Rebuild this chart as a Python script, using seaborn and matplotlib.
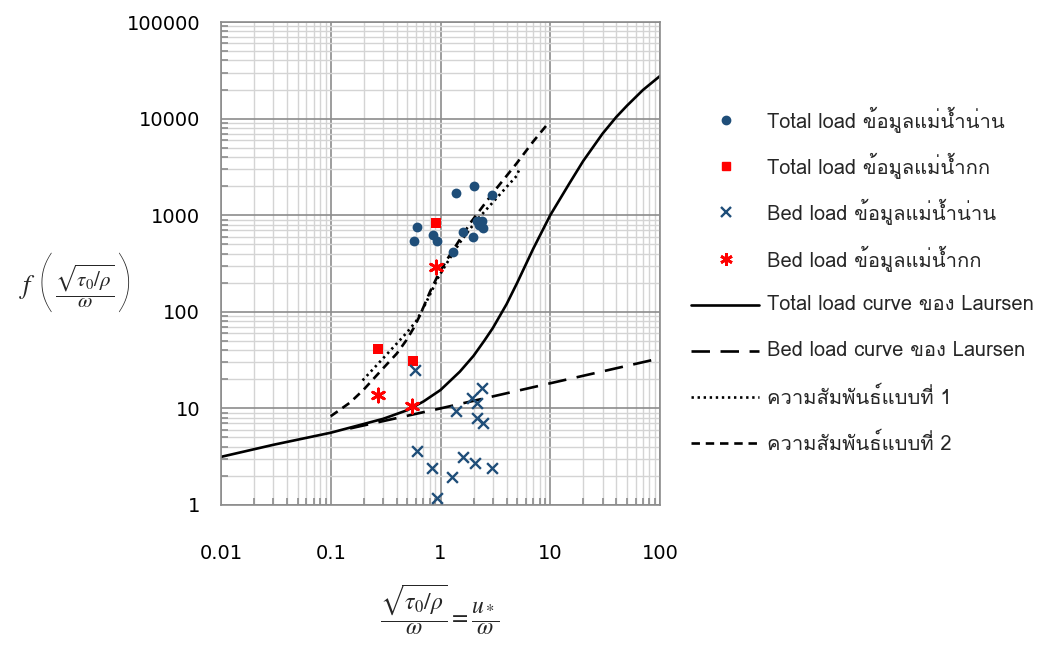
import numpy as np
import pandas as pd
import matplotlib
matplotlib.use("Agg")
import matplotlib.pyplot as plt
from matplotlib import font_manager
from matplotlib.ft2font import FT2Font
from matplotlib.lines import Line2D
from matplotlib.ticker import LogLocator, NullFormatter, FixedLocator, FixedFormatter
import seaborn as sns

# ---------------- data ----------------
nan_total_x = [2.03, 1.38, 2.94, 0.615, 0.574, 0.855, 0.922, 1.59, 1.29, 1.98, 2.16, 2.40, 2.23, 2.43]
nan_total_y = [2000, 1710, 1610, 760, 541, 620, 541, 676, 413, 589, 865, 865, 792, 737]

kok_total_x = [0.916, 0.271, 0.558]
kok_total_y = [824, 41.5, 31]

nan_bed_x = [0.582, 1.95, 2.40, 2.14, 1.38, 2.14, 2.43, 0.615, 1.61, 2.06, 0.841, 2.97, 1.27, 0.92]
nan_bed_y = [25, 12.7, 16.2, 11.3, 9.5, 7.9, 7.1, 3.62, 3.12, 2.74, 2.43, 2.43, 1.96, 1.19]

kok_bed_x = [0.91, 0.271, 0.553]
kok_bed_y = [289, 13.8, 10.6]

laursen_total_x = [0.01, 0.03, 0.1, 0.2, 0.3, 0.5, 0.7, 1.0, 1.5, 2.0, 2.5, 3.0, 4.0, 5.0, 7.0,
                   10, 15, 20, 30, 40, 50, 70, 100]
laursen_total_y = [3.15, 4.2, 5.6, 6.9, 7.8, 9.6, 11.8, 15.5, 24, 35, 50, 68, 120, 200, 450,
                   1000, 2150, 3650, 7000, 10400, 13600, 19800, 27600]

laursen_bed_x = [0.15, 1, 10, 100]
laursen_bed_y = [6.2, 10, 18.2, 33]

rel1_x = [0.195, 0.3, 0.4, 0.5, 0.6, 0.7, 0.8, 0.95, 1.14, 1.5, 2.14, 3.0, 4.0, 4.94, 5.2]
rel1_y = [19.5, 33, 47, 62, 80, 110, 150, 225, 318, 520, 890, 1360, 1960, 2550, 2950]

rel2_x = [0.1, 0.15, 0.198, 0.3, 0.4, 0.49, 0.57, 0.65, 0.8, 0.95, 1.14, 1.5, 1.86, 3.0, 4.94,
          7.0, 9.14]
rel2_y = [8.3, 11.5, 15.5, 26, 37, 51, 68, 92, 160, 240, 344, 560, 824, 1700, 3440, 5800, 8380]

x_ticks = [0.01, 0.1, 1, 10, 100]
x_tick_labels = ["0.01", "0.1", "1", "10", "100"]
y_ticks = [1, 10, 100, 1000, 10000, 100000]
y_tick_labels = ["1", "10", "100", "1000", "10000", "100000"]

labels = [
    "Total load ข้อมูลแม่น้ำน่าน",
    "Total load ข้อมูลแม่น้ำกก",
    "Bed load ข้อมูลแม่น้ำน่าน",
    "Bed load ข้อมูลแม่น้ำกก",
    "Total load curve ของ Laursen",
    "Bed load curve ของ Laursen",
    "ความสัมพันธ์แบบที่ 1",
    "ความสัมพันธ์แบบที่ 2",
]

# ---------------- fonts ----------------
sns.set_theme(style="white")
thai_font = None
for f in font_manager.fontManager.ttflist:
    try:
        cm = FT2Font(f.fname).get_charmap()
        if 0x0E02 in cm and 0x0E49 in cm and 0x0E33 in cm:
            thai_font = f.name
            break
    except Exception:
        pass
families = ["DejaVu Sans"]
if thai_font:
    families = [thai_font, "DejaVu Sans"]
plt.rcParams["font.family"] = families
plt.rcParams["mathtext.fontset"] = "stix"

BLUE = "#1F4E79"
RED = "#FF0000"
W, H = 1053, 648

fig = plt.figure(figsize=(W / 100, H / 100), dpi=100)
ax = fig.add_axes([221 / W, 1 - 505 / H, 439 / W, 483 / H])
ax.set_xscale("log")
ax.set_yscale("log")
ax.set_xlim(0.01, 100)
ax.set_ylim(1, 100000)

# grid
ax.xaxis.set_minor_locator(LogLocator(base=10, subs=np.arange(2, 10)))
ax.yaxis.set_minor_locator(LogLocator(base=10, subs=np.arange(2, 10)))
ax.grid(which="major", color="#8C8C8C", linewidth=1.2)
ax.grid(which="minor", color="#D4D4D4", linewidth=1.0)
ax.set_axisbelow(True)
for s in ax.spines.values():
    s.set_color("#8C8C8C")
    s.set_linewidth(1.2)

LW = 1.9
# lines
sns.lineplot(x=laursen_total_x, y=laursen_total_y, ax=ax, color="black", linewidth=LW,
             sort=False, estimator=None)
sns.lineplot(x=laursen_bed_x, y=laursen_bed_y, ax=ax, color="black", linewidth=LW,
             sort=False, estimator=None)
ax.lines[-1].set_dashes((7, 4))
sns.lineplot(x=rel1_x, y=rel1_y, ax=ax, color="black", linewidth=LW,
             sort=False, estimator=None)
ax.lines[-1].set_dashes((0.9, 1.4))
sns.lineplot(x=rel2_x, y=rel2_y, ax=ax, color="black", linewidth=LW,
             sort=False, estimator=None)
ax.lines[-1].set_dashes((3.2, 2.2))

# points
sns.scatterplot(x=nan_total_x, y=nan_total_y, ax=ax, color=BLUE, marker="o", s=50,
                edgecolor=BLUE, linewidth=0, zorder=5)
sns.scatterplot(x=kok_total_x, y=kok_total_y, ax=ax, color=RED, marker="s", s=48,
                edgecolor=RED, linewidth=0, zorder=5)
sns.scatterplot(x=nan_bed_x, y=nan_bed_y, ax=ax, color=BLUE, marker="x", s=60,
                linewidth=1.7, zorder=5)
sns.scatterplot(x=kok_bed_x, y=kok_bed_y, ax=ax, color=RED, marker=(6, 2, 0), s=90,
                linewidth=2.0, zorder=5)

# ticks
ax.xaxis.set_major_locator(FixedLocator(x_ticks))
ax.xaxis.set_major_formatter(FixedFormatter(x_tick_labels))
ax.yaxis.set_major_locator(FixedLocator(y_ticks))
ax.yaxis.set_major_formatter(FixedFormatter(y_tick_labels))
ax.xaxis.set_minor_formatter(NullFormatter())
ax.yaxis.set_minor_formatter(NullFormatter())
ax.tick_params(which="major", length=0, labelsize=14, colors="black")
ax.tick_params(axis="y", which="major", pad=15)
ax.tick_params(axis="x", which="major", pad=28)
ax.tick_params(which="minor", direction="in", length=5, width=1.2, color="#8C8C8C",
               bottom=True, left=True)
for lab in ax.get_xticklabels() + ax.get_yticklabels():
    lab.set_fontfamily("DejaVu Sans")

# axis labels
fig.text(28 / W, 1 - 287 / H, r"$f$", ha="center", va="center", fontsize=19)
fig.text(45 / W, 1 - 285 / H, "(", ha="center", va="center", fontsize=50,
         family="Lato", fontweight=100)
fig.text(124 / W, 1 - 285 / H, ")", ha="center", va="center", fontsize=50,
         family="Lato", fontweight=100)
fig.text(84.5 / W, 1 - 286 / H, r"$\dfrac{\sqrt{\tau_0/\rho}}{\omega}$",
         ha="center", va="center", fontsize=15)
fig.text(440 / W, 1 - 610 / H,
         r"$\dfrac{\sqrt{\tau_0/\rho}}{\omega}=\dfrac{u_*}{\omega}$",
         ha="center", va="center", fontsize=17)

# legend (drawn entry by entry to match the reference spacing)
handles = [
    dict(linestyle="none", marker="o", markersize=6, color=BLUE),
    dict(linestyle="none", marker="s", markersize=6, color=RED),
    dict(linestyle="none", marker="x", markersize=7.5, markeredgewidth=1.7, color=BLUE),
    dict(linestyle="none", marker=(6, 2, 0), markersize=9, markeredgewidth=2.0, color=RED),
    dict(color="black", linewidth=LW),
    dict(color="black", linewidth=LW, dashes=(7, 4)),
    dict(color="black", linewidth=LW, dashes=(0.9, 1.4)),
    dict(color="black", linewidth=LW, dashes=(3.2, 2.2)),
]
row0, step = 120, 46.2
for i, (h, lab) in enumerate(zip(handles, labels)):
    yy = 1 - (row0 + i * step) / H
    if h.get("linestyle") == "none":
        fig.add_artist(Line2D([725.7 / W], [yy], transform=fig.transFigure, **h))
    else:
        fig.add_artist(Line2D([691 / W, 759 / W], [yy, yy], transform=fig.transFigure, **h))
    fig.text(767 / W, yy, lab, ha="left", va="center", fontsize=14.5)

fig.savefig("out.png", dpi=100)
